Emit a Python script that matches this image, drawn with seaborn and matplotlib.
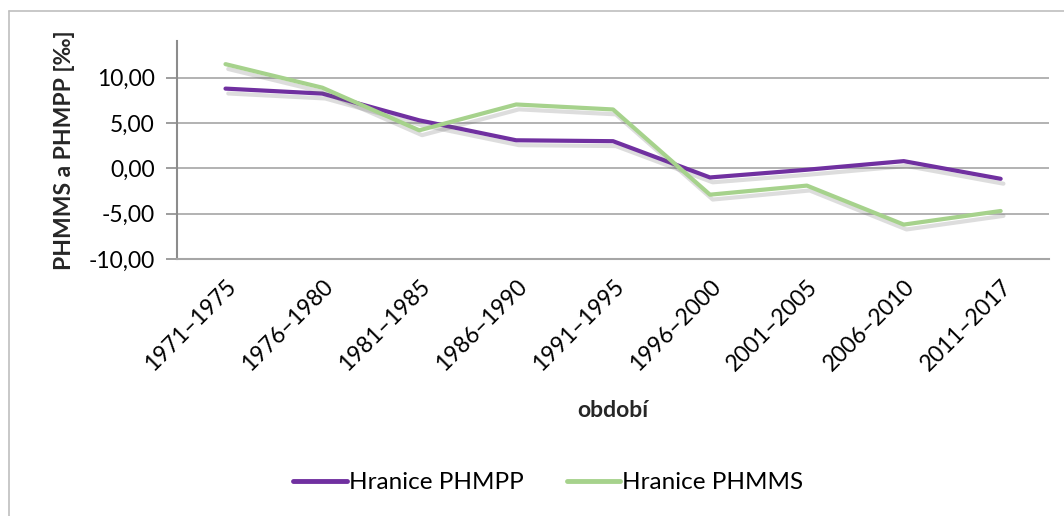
import matplotlib
matplotlib.use("Agg")
import matplotlib.pyplot as plt
import matplotlib.patheffects as pe
from matplotlib.lines import Line2D
import seaborn as sns
import pandas as pd

periods = ["1971–1975", "1976–1980", "1981–1985", "1986–1990", "1991–1995",
           "1996–2000", "2001–2005", "2006–2010", "2011–2017"]
phmpp = [8.8, 8.25, 5.3, 3.1, 3.0, -1.0, -0.15, 0.8, -1.15]
phmms = [11.5, 8.9, 4.2, 7.05, 6.5, -2.9, -1.9, -6.2, -4.7]
series_names = ["Hranice PHMPP", "Hranice PHMMS"]
yticks = [-10, -5, 0, 5, 10]
ytick_labels = ["-10,00", "-5,00", "0,00", "5,00", "10,00"]

df = pd.DataFrame({
    "období": periods * 2,
    "value": phmpp + phmms,
    "series": [series_names[0]] * len(periods) + [series_names[1]] * len(periods),
})

sns.set_theme(style="white")
plt.rcParams["font.family"] = ["Lato", "DejaVu Sans"]
plt.rcParams["text.color"] = "black"
plt.rcParams["xtick.color"] = "black"
plt.rcParams["ytick.color"] = "black"

colors = {"Hranice PHMPP": "#7030A0", "Hranice PHMMS": "#A6D28C"}

fig = plt.figure(figsize=(10.64, 5.16), dpi=100)
ax = fig.add_axes([0.1664, 0.498, 0.8196, 0.4225])

sns.lineplot(data=df, x="období", y="value", hue="series", palette=colors,
             linewidth=3, sort=False, legend=False, ax=ax)

for line in ax.lines:
    line.set_path_effects([
        pe.SimpleLineShadow(offset=(2, -3.5), shadow_color="#666666", alpha=0.22),
        pe.Normal(),
    ])
    line.set_solid_capstyle("round")

ax.set_xlim(-0.5, len(periods) - 0.5)
ax.set_ylim(-10, 14.05)
ax.set_yticks(yticks)
ax.set_yticklabels(ytick_labels, fontsize=16.5)
ax.yaxis.grid(True, color="#A6A6A6", linewidth=1.2)
ax.set_axisbelow(True)

for s in ["top", "right"]:
    ax.spines[s].set_visible(False)
ax.spines["left"].set_color("#8C8C8C")
ax.spines["left"].set_linewidth(1.5)
ax.spines["bottom"].set_color("#A6A6A6")
ax.spines["bottom"].set_linewidth(1.5)

ax.tick_params(axis="y", which="both", left=True, length=8, width=1.2,
               color="#8C8C8C", labelcolor="black", pad=8)
ax.tick_params(axis="x", bottom=False, labelcolor="black", pad=6)

ax.set_xticks(range(len(periods)))
ax.set_xticklabels(periods, rotation=45, ha="right", rotation_mode="anchor",
                   fontsize=16.5)

ax.set_xlabel("období", fontsize=16.5, fontweight="bold", labelpad=18)
ax.set_ylabel("PHMMS a PHMPP [‰]", fontsize=16.5, fontweight="bold", labelpad=10)

handles = [Line2D([0], [0], color=colors[n], lw=3.5) for n in series_names]
fig.legend(handles, series_names, loc="center", bbox_to_anchor=(0.5155, 0.064),
           ncol=2, frameon=False, fontsize=17.5, handlelength=2.2,
           handletextpad=0.1, columnspacing=1.75)

# chart area border (top and left visible)
fig.add_artist(Line2D([9 / 1064, 1.0], [1 - 11 / 516, 1 - 11 / 516],
                      transform=fig.transFigure, color="#BFBFBF", lw=1.2))
fig.add_artist(Line2D([9 / 1064, 9 / 1064], [0, 1 - 11 / 516],
                      transform=fig.transFigure, color="#BFBFBF", lw=1.2))

fig.savefig("out.png", dpi=100)
